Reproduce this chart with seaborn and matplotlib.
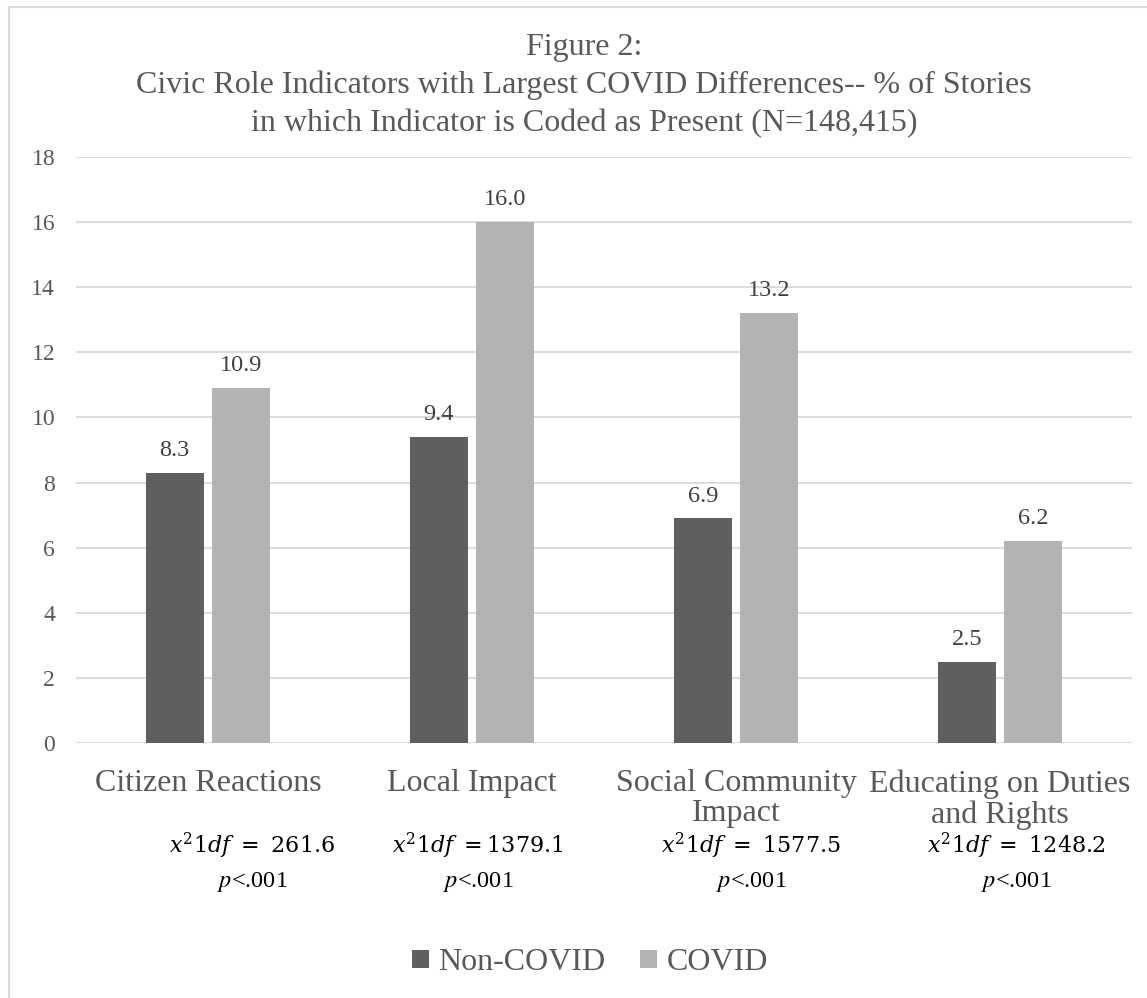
import matplotlib
matplotlib.use("Agg")
import matplotlib.pyplot as plt
import seaborn as sns
import pandas as pd
from matplotlib.lines import Line2D
from matplotlib.patches import Patch

# ---- data -------------------------------------------------------------
categories = [
    "Citizen Reactions",
    "Local Impact",
    "Social Community\nImpact",
    "Educating on Duties\nand Rights",
]
groups = ["Non-COVID", "COVID"]
non_covid = [8.3, 9.4, 6.9, 2.5]
covid = [10.9, 16.0, 13.2, 6.2]
chi_square = ["261.6", "1379.1", "1577.5", "1248.2"]
chi_space_after_eq = [True, False, True, True]
p_value = "<.001"
title_lines = [
    "Figure 2:",
    "Civic Role Indicators with Largest COVID Differences-- % of Stories",
    "in which Indicator is Coded as Present (N=148,415)",
]
y_ticks = list(range(0, 19, 2))

df = pd.DataFrame({
    "Indicator": categories * 2,
    "Group": [groups[0]] * len(categories) + [groups[1]] * len(categories),
    "Percent": non_covid + covid,
})

# ---- style ------------------------------------------------------------
sns.set_theme(style="white")
plt.rcParams["font.family"] = ["Liberation Serif", "DejaVu Serif"]

TEXT_GREY = "#595959"
LABEL_GREY = "#404040"
GRID_GREY = "#d9d9d9"
colors = {"Non-COVID": "#5f5f5f", "COVID": "#b3b3b3"}

W, H = 1147, 998
fig = plt.figure(figsize=(W / 100, H / 100), dpi=100)
fig.patch.set_facecolor("white")

def fx(px):
    return px / W

def fy(py):
    return 1 - py / H

# plot area
ax = fig.add_axes([fx(76), fy(743), fx(1132) - fx(76), fy(157) - fy(743)])

sns.barplot(
    data=df, x="Indicator", y="Percent", hue="Group",
    order=categories, hue_order=groups, palette=colors,
    width=0.504, gap=0.128, saturation=1, errorbar=None,
    linewidth=0, legend=False, ax=ax,
)

ax.set_ylim(0, 18)
ax.set_yticks(y_ticks)
ax.set_xlim(-0.5, len(categories) - 0.5)
ax.grid(axis="y", color=GRID_GREY, linewidth=1.3)
ax.grid(axis="x", visible=False)
ax.set_axisbelow(True)
for s in ax.spines.values():
    s.set_visible(False)
ax.set_xlabel("")
ax.set_ylabel("")
ax.tick_params(axis="y", length=0, pad=15, labelsize=17, labelcolor=TEXT_GREY)
ax.tick_params(axis="x", length=0, pad=19, labelsize=23, labelcolor=TEXT_GREY)
ax.set_xticks(range(len(categories)))
ax.set_xticklabels(categories, linespacing=1.05)

# value labels on bars
for cont in ax.containers:
    ax.bar_label(cont, fmt="%.1f", padding=8.5, fontsize=17.5, color=LABEL_GREY)

# title, anchored at the top of its first line
fig.text(fx(584), fy(33), "\n".join(title_lines), ha="center", va="top",
         fontsize=23, color=TEXT_GREY, linespacing=1.38)

# chi-square annotations under each category
chi_x = [252, 478, 751, 1016]
for x, val, sp in zip(chi_x, chi_square, chi_space_after_eq):
    sep = r"\ " if sp else ""
    fig.text(fx(x), fy(853), rf"$x^{{2}}1df\ {{=}}{sep}{val}$", ha="center",
             va="baseline", fontsize=16, color="black", math_fontfamily="dejavuserif")
    fig.text(fx(x), fy(887), rf"$p${p_value}", ha="center", va="baseline",
             fontsize=17.5, color="black", math_fontfamily="stix")

# legend
handles = [Patch(facecolor=colors[g], edgecolor="none", label=g) for g in groups]
fig.legend(handles=handles, loc="center", bbox_to_anchor=(fx(590), fy(963)),
           ncol=2, frameon=False, fontsize=23, labelcolor=TEXT_GREY,
           handlelength=0.52, handleheight=0.52, handletextpad=0.3,
           columnspacing=1.1, borderpad=0)

# chart frame
fig.add_artist(Line2D([fx(8.5), 1], [fy(7), fy(7)], color=GRID_GREY, lw=1.5))
fig.add_artist(Line2D([fx(8.5), fx(8.5)], [fy(7), 0], color=GRID_GREY, lw=1.5))

fig.savefig("out.png", dpi=100, facecolor="white")
